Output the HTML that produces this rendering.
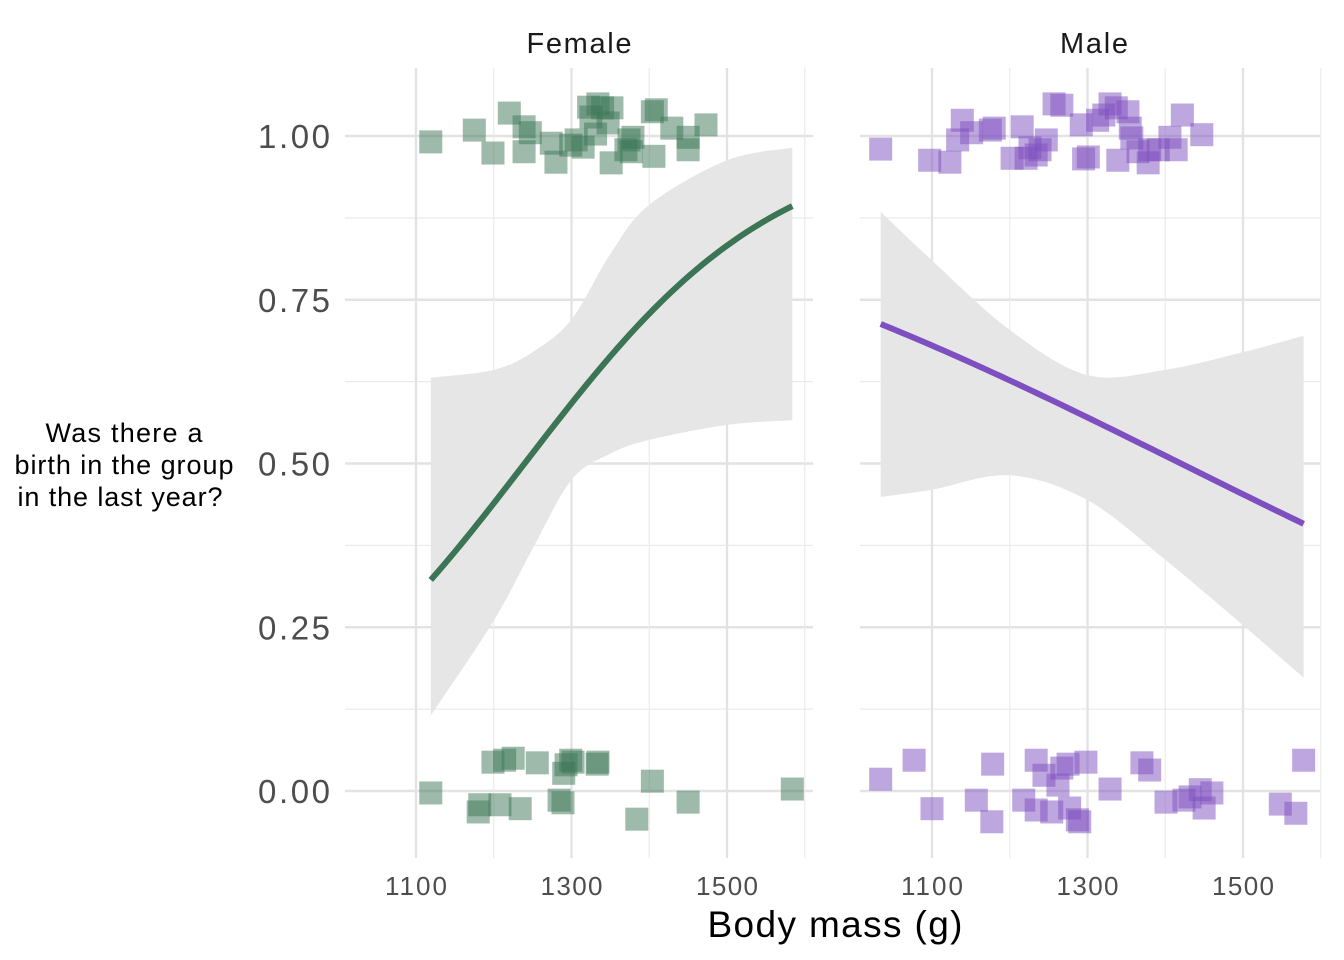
<!DOCTYPE html>
<html><head><meta charset="utf-8"><style>
html,body{margin:0;padding:0;background:#fff;}
svg{display:block;font-family:"Liberation Sans",Arial,sans-serif;}
</style></head><body>
<svg id="chart" width="1344" height="960" viewBox="0 0 1344 960">
<g id="grid"></g>
<g id="bands"></g>
<g id="points"></g>
<g id="lines"></g>
<g id="labels"></g>
<text x="579" y="53" font-size="29" text-anchor="middle" fill="#1a1a1a" textLength="105">Female</text>
<text x="1094" y="53" font-size="29" text-anchor="middle" fill="#1a1a1a" textLength="68">Male</text>
<text x="835" y="937" font-size="37" text-anchor="middle" fill="#000" textLength="255">Body mass (g)</text>
<text font-size="27" text-anchor="middle" fill="#000"><tspan x="124" y="442" textLength="157">Was there a</tspan><tspan x="124" y="474" textLength="219">birth in the group</tspan><tspan x="120" y="506" textLength="205">in the last year?</tspan></text>
</svg>
<script>
const femaleTopX=[1119,1175,1199,1220,1239,1239,1247,1274,1280,1299,1306,1315,1322,1325,1331,1340,1347,1351,1352,1370,1374,1379,1377,1404,1409,1406,1429,1450,1450,1473,1334];
const femaleTopY=[0.991,1.009,0.974,1.035,1.014,0.976,1.005,0.989,0.960,0.986,0.994,0.983,1.044,1.029,1.003,1.043,1.020,0.959,1.043,0.979,0.994,0.998,0.976,1.037,1.040,0.969,1.012,0.998,0.979,1.017,1.049];
const femaleBotX=[1119,1180,1182,1199,1208,1214,1225,1234,1256,1284,1289,1290,1299,1293,1302,1333,1334,1384,1404,1450,1584];
const femaleBotY=[-0.003,-0.032,-0.021,0.044,-0.021,0.047,0.050,-0.027,0.043,-0.014,-0.018,0.027,0.047,0.040,0.044,0.041,0.044,-0.043,0.015,-0.017,0.003];
const maleTopX=[1034,1097,1123,1133,1139,1151,1175,1180,1203,1216,1221,1226,1234,1239,1247,1257,1267,1292,1295,1301,1313,1321,1329,1337,1339,1352,1357,1365,1378,1380,1391,1406,1414,1422,1447,1355];
const maleTopY=[0.980,0.963,0.960,0.994,1.024,1.005,1.009,1.012,0.966,1.014,0.966,0.982,0.971,0.979,0.994,1.049,1.047,1.017,0.965,0.968,1.024,1.032,1.049,1.043,0.963,1.037,0.997,0.976,0.959,0.979,0.979,0.998,0.979,1.032,1.002,1.012];
const maleBotX=[1034,1077,1100,1157,1178,1177,1218,1234,1234,1244,1254,1262,1275,1277,1290,1298,1287,1329,1370,1380,1401,1424,1432,1445,1450,1460,1548,1568,1578,1267];
const maleBotY=[0.018,0.047,-0.027,-0.014,0.041,-0.047,-0.014,0.047,-0.029,0.024,-0.032,0.009,0.041,-0.026,-0.047,0.044,-0.044,0.003,0.043,0.032,-0.017,-0.014,-0.009,0.002,-0.026,-0.003,-0.020,-0.034,0.047,0.035];
const femaleBandX=[1119,1200,1250,1300,1350,1400,1500,1584];
const femaleUpper=[0.631,0.643,0.670,0.72,0.82,0.895,0.963,0.982];
const femaleLower=[0.115,0.26,0.37,0.475,0.515,0.536,0.559,0.566];
const maleBandX=[1034,1100,1200,1300,1400,1500,1578];
const maleUpper=[0.884,0.81,0.704,0.635,0.643,0.670,0.695];
const maleLower=[0.449,0.46,0.482,0.444,0.353,0.253,0.173];
const femaleFit=[-7.64,0.006163]; const femaleRange=[1119,1584];
const maleFit=[3.347,-0.002357]; const maleRange=[1034,1578];
const xTicks=[1100,1300,1500]; const xMinor=[1000,1200,1400,1600];
const yTicks=[0,0.25,0.5,0.75,1.0]; const yTickLabels=["0.00","0.25","0.50","0.75","1.00"];
const yMinor=[0.125,0.375,0.625,0.875];

const NS="http://www.w3.org/2000/svg";
const panels=[{x0:345,x1:813,px1100:416},{x0:860,x1:1320,px1100:932}];
const xs=(p,v)=>p.px1100+(v-1100)*0.7775;
const ys=v=>791-v*655;
function mk(tag,attrs,parent){const e=document.createElementNS(NS,tag);for(const k in attrs)e.setAttribute(k,attrs[k]);document.getElementById(parent).appendChild(e);return e;}
panels.forEach((p,i)=>{
  yMinor.forEach(v=>{const l=mk('line',{x1:p.x0,x2:p.x1,y1:ys(v),y2:ys(v),stroke:'#ebebeb','stroke-width':1.2},'grid');
    
    });
  yTicks.forEach(v=>{const l=mk('line',{x1:p.x0,x2:p.x1,y1:ys(v),y2:ys(v),stroke:'#e3e3e3','stroke-width':2.4},'grid');
    
    });
  xMinor.forEach(v=>{const x=xs(p,v);if(x<p.x0||x>p.x1+1)return;const l=mk('line',{x1:x,x2:x,y1:68,y2:858,stroke:'#ebebeb','stroke-width':1.2},'grid');
    
    });
  xTicks.forEach(v=>{const x=xs(p,v);const l=mk('line',{x1:x,x2:x,y1:68,y2:858,stroke:'#e3e3e3','stroke-width':2.4},'grid');
    
    
    const t=mk('text',{x:x,y:895,'font-size':26,'text-anchor':'middle',fill:'#4d4d4d',textLength:62},'labels');t.textContent=v;
    
    });
});
yTicks.forEach((v,i)=>{const t=mk('text',{x:330,y:ys(v)+12,'font-size':33,'text-anchor':'end',fill:'#4d4d4d',textLength:72},'labels');t.textContent=yTickLabels[i];
  
  });
function smoothPath(P,start){let d=start?'M'+P[0][0]+','+P[0][1]:'L'+P[0][0]+','+P[0][1];
  for(let i=0;i<P.length-1;i++){const p0=P[i-1]||P[i],p1=P[i],p2=P[i+1],p3=P[i+2]||P[i+1];
    d+='C'+(p1[0]+(p2[0]-p0[0])/6)+','+(p1[1]+(p2[1]-p0[1])/6)+' '+(p2[0]-(p3[0]-p1[0])/6)+','+(p2[1]-(p3[1]-p1[1])/6)+' '+p2[0]+','+p2[1];}
  return d;}
function band(p,bx,up,lo,name){const U=bx.map((v,i)=>[xs(p,v),ys(up[i])]);const L=bx.map((v,i)=>[xs(p,v),ys(lo[i])]).reverse();
  const e=mk('path',{d:smoothPath(U,true)+smoothPath(L,false)+'Z',fill:'#e6e6e6'},'bands');
  
  }
band(panels[0],femaleBandX,femaleUpper,femaleLower,'female-ci-band');
band(panels[1],maleBandX,maleUpper,maleLower,'male-ci-band');
function pts(p,X,Y,col,name){X.forEach((v,i)=>{const e=mk('rect',{x:xs(p,v)-11.5,y:ys(Y[i])-11.5,width:23,height:23,fill:col,'fill-opacity':0.5},'points');
  
  });}
pts(panels[0],femaleTopX,femaleTopY,'#3b7556','female-point');
pts(panels[0],femaleBotX,femaleBotY,'#3b7556','female-point');
pts(panels[1],maleTopX,maleTopY,'#7e4fc0','male-point');
pts(panels[1],maleBotX,maleBotY,'#7e4fc0','male-point');
function fit(p,f,r,col,name){let d='';for(let k=0;k<=60;k++){const v=r[0]+(r[1]-r[0])*k/60;const y=1/(1+Math.exp(-(f[0]+f[1]*v)));d+=(k?'L':'M')+xs(p,v)+','+ys(y);}
  const e=mk('path',{d:d,fill:'none',stroke:col,'stroke-width':6},'lines');
  
  }
fit(panels[0],femaleFit,femaleRange,'#3b7556','female-fit-line');
fit(panels[1],maleFit,maleRange,'#7e4fc0','male-fit-line');
</script>
</body></html>
